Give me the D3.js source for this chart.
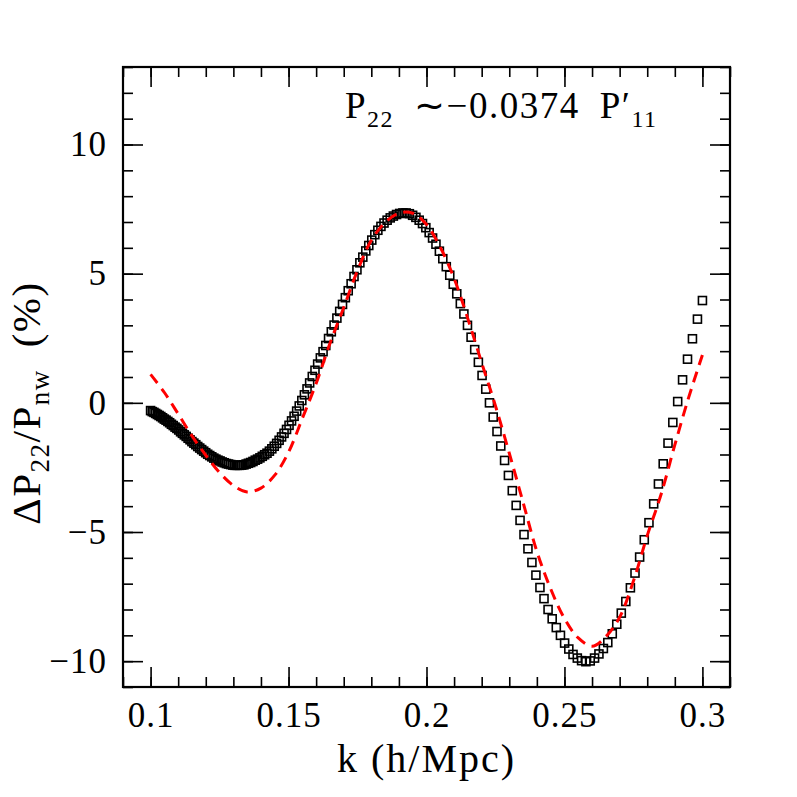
<!DOCTYPE html>
<html>
<head>
<meta charset="utf-8">
<script src="https://cdn.jsdelivr.net/npm/d3@7"></script>
<style>
  body { margin: 0; background: #fff; }
  text { font-family: "Liberation Serif", "Times New Roman", serif; fill: #000; }
</style>
</head>
<body>
<div class="vis-p22"></div>
<script>
// measured k bins (h/Mpc), log spaced
const kSim = [
  0.10000, 0.10061, 0.10122, 0.10184, 0.10246, 0.10308, 0.10371, 0.10434, 0.10498, 0.10561,
  0.10626, 0.10690, 0.10755, 0.10821, 0.10887, 0.10953, 0.11020, 0.11087, 0.11154, 0.11222,
  0.11291, 0.11360, 0.11429, 0.11498, 0.11568, 0.11638, 0.11709, 0.11781, 0.11852, 0.11925,
  0.11997, 0.12070, 0.12144, 0.12218, 0.12292, 0.12367, 0.12442, 0.12518, 0.12594, 0.12671,
  0.12748, 0.12826, 0.12904, 0.12982, 0.13061, 0.13141, 0.13221, 0.13301, 0.13382, 0.13464,
  0.13546, 0.13628, 0.13711, 0.13794, 0.13878, 0.13963, 0.14048, 0.14133, 0.14219, 0.14306,
  0.14394, 0.14481, 0.14569, 0.14658, 0.14747, 0.14837, 0.14927, 0.15018, 0.15109, 0.15201,
  0.15294, 0.15387, 0.15481, 0.15575, 0.15670, 0.15765, 0.15861, 0.15958, 0.16055, 0.16153,
  0.16251, 0.16350, 0.16450, 0.16550, 0.16650, 0.16752, 0.16854, 0.16956, 0.17059, 0.17163,
  0.17268, 0.17373, 0.17479, 0.17585, 0.17692, 0.17800, 0.17908, 0.18017, 0.18127, 0.18237,
  0.18349, 0.18460, 0.18573, 0.18686, 0.18799, 0.18914, 0.19029, 0.19145, 0.19261, 0.19379,
  0.19497, 0.19616, 0.19735, 0.19855, 0.19976, 0.20097, 0.20220, 0.20343, 0.20467, 0.20591,
  0.20717, 0.20843, 0.20970, 0.21097, 0.21226, 0.21355, 0.21485, 0.21616, 0.21747, 0.21880,
  0.22014, 0.22148, 0.22282, 0.22418, 0.22555, 0.22692, 0.22830, 0.22969, 0.23109, 0.23250,
  0.23391, 0.23534, 0.23677, 0.23821, 0.23966, 0.24112, 0.24259, 0.24406, 0.24555, 0.24704,
  0.24855, 0.25006, 0.25158, 0.25311, 0.25466, 0.25621, 0.25777, 0.25934, 0.26091, 0.26250,
  0.26411, 0.26571, 0.26733, 0.26896, 0.27060, 0.27224, 0.27390, 0.27557, 0.27725, 0.27893,
  0.28063, 0.28234, 0.28406, 0.28579, 0.28753, 0.28928, 0.29104, 0.29281, 0.29460, 0.29639,
  0.29820, 0.30001
];
// Delta P22 / P_nw (%) from the simulation (open squares)
const dpSim = [
  -0.30, -0.34, -0.37, -0.41, -0.45, -0.49, -0.53, -0.58, -0.63, -0.67,
  -0.72, -0.77, -0.83, -0.88, -0.94, -0.99, -1.05, -1.12, -1.18, -1.24,
  -1.30, -1.37, -1.43, -1.50, -1.56, -1.62, -1.69, -1.75, -1.81, -1.87,
  -1.93, -1.99, -2.04, -2.09, -2.14, -2.18, -2.22, -2.25, -2.29, -2.32,
  -2.35, -2.37, -2.39, -2.41, -2.42, -2.42, -2.42, -2.41, -2.40, -2.37,
  -2.34, -2.31, -2.27, -2.22, -2.18, -2.13, -2.07, -2.01, -1.95, -1.87,
  -1.78, -1.68, -1.57, -1.45, -1.32, -1.18, -1.03, -0.87, -0.70, -0.52,
  -0.32, -0.12, 0.09, 0.31, 0.54, 0.77, 1.02, 1.26, 1.50, 1.74,
  1.98, 2.22, 2.49, 2.75, 3.01, 3.28, 3.54, 3.81, 4.07, 4.34,
  4.61, 4.89, 5.15, 5.42, 5.64, 5.88, 6.09, 6.30, 6.51, 6.68,
  6.83, 6.96, 7.07, 7.16, 7.23, 7.29, 7.33, 7.35, 7.35, 7.32,
  7.26, 7.18, 7.07, 6.94, 6.78, 6.59, 6.38, 6.14, 5.87, 5.58,
  5.27, 4.94, 4.59, 4.22, 3.84, 3.44, 3.00, 2.54, 2.06, 1.57,
  1.06, 0.53, 0.00, -0.55, -1.11, -1.67, -2.23, -2.81, -3.40, -3.97,
  -4.55, -5.10, -5.65, -6.18, -6.67, -7.15, -7.58, -8.00, -8.36, -8.70,
  -9.00, -9.30, -9.53, -9.74, -9.88, -9.98, -10.02, -9.99, -9.88, -9.72,
  -9.51, -9.28, -8.94, -8.57, -8.14, -7.69, -7.16, -6.59, -5.97, -5.30,
  -4.64, -3.91, -3.14, -2.36, -1.56, -0.76, 0.05, 0.89, 1.69, 2.48,
  3.24, 3.96
];
// model P22 ~ -0.0374 P'11 (red dashed)
const kFit = [
  0.100, 0.105, 0.110, 0.115, 0.120, 0.125, 0.130, 0.135, 0.140, 0.145,
  0.150, 0.155, 0.160, 0.165, 0.170, 0.175, 0.180, 0.185, 0.190, 0.195,
  0.200, 0.205, 0.210, 0.215, 0.220, 0.225, 0.230, 0.235, 0.240, 0.245,
  0.250, 0.255, 0.260, 0.265, 0.270, 0.275, 0.280, 0.285, 0.290, 0.295,
  0.300
];
const dpFit = [
  1.10, 0.40, -0.43, -1.28, -2.03, -2.70, -3.20, -3.45, -3.30, -2.80,
  -1.91, -0.60, 0.75, 2.30, 3.69, 5.12, 6.29, 6.98, 7.34, 7.34,
  6.90, 6.02, 4.82, 3.25, 1.55, -0.12, -1.95, -3.85, -5.75, -7.20,
  -8.35, -9.10, -9.42, -9.05, -8.30, -6.90, -5.14, -3.55, -1.63, 0.20,
  1.85
];
const xMajor = [0.1, 0.15, 0.2, 0.25, 0.3];
const xMajorLabels = ['0.1', '0.15', '0.2', '0.25', '0.3'];
const yMajor = [-10, -5, 0, 5, 10];
const yMajorLabels = ['\u221210', '\u22125', '0', '5', '10'];

const W = 797, H = 797;
const margin = { top: 67, right: 67, bottom: 110, left: 123 };
const width = W - margin.left - margin.right;
const height = H - margin.top - margin.bottom;

const svgRoot = d3.select('.vis-p22')
  .append('svg')
  .attr('width', W)
  .attr('height', H);
svgRoot.append('rect').attr('width', W).attr('height', H).attr('fill', '#fff');

const svg = svgRoot.append('g')
  .attr('transform', 'translate(' + margin.left + ',' + margin.top + ')');

const x = d3.scaleLinear().domain([0.09, 0.31]).range([0, width]);
const y = d3.scaleLinear().domain([-11, 13]).range([height, 0]);

// clip to frame
svg.append('clipPath').attr('id', 'frame-clip')
  .append('rect').attr('width', width).attr('height', height);

// squares
const sq = 8;
svg.append('g')
  .attr('clip-path', 'url(#frame-clip)')
  .selectAll('rect')
  .data(kSim.map((k, i) => ({ k: k, v: dpSim[i] })))
  .enter()
  .append('rect')
  .attr('x', d => x(d.k) - sq / 2)
  .attr('y', d => y(d.v) - sq / 2)
  .attr('width', sq)
  .attr('height', sq)
  .attr('fill', 'none')
  .attr('stroke', '#000')
  .attr('stroke-width', 1.6);

// red dashed model curve
const line = d3.line()
  .x(d => x(d.k))
  .y(d => y(d.v))
  .curve(d3.curveCatmullRom);
svg.append('path')
  .datum(kFit.map((k, i) => ({ k: k, v: dpFit[i] })))
  .attr('d', line)
  .attr('fill', 'none')
  .attr('stroke', '#ff0000')
  .attr('stroke-width', 3)
  .attr('stroke-dasharray', '11,7');

// Axes: ticks point inward on all four sides
const minorX = x.ticks(22);
const minorY = y.ticks(24);
function styleAxis(g) {
  g.select('.domain').remove();
  g.selectAll('.tick line').attr('stroke', '#000').attr('stroke-width', 1.6);
}

svg.append('g')
  .attr('transform', 'translate(0,' + height + ')')
  .call(d3.axisBottom(x).tickValues(minorX).tickSize(-10).tickFormat(''))
  .call(styleAxis);
svg.append('g')
  .call(d3.axisTop(x).tickValues(minorX).tickSize(-10).tickFormat(''))
  .call(styleAxis);
svg.append('g')
  .call(d3.axisLeft(y).tickValues(minorY).tickSize(-10).tickFormat(''))
  .call(styleAxis);
svg.append('g')
  .attr('transform', 'translate(' + width + ',0)')
  .call(d3.axisRight(y).tickValues(minorY).tickSize(-10).tickFormat(''))
  .call(styleAxis);

const xAxis = svg.append('g')
  .attr('transform', 'translate(0,' + height + ')')
  .call(d3.axisBottom(x).tickValues(xMajor).tickSize(-20).tickPadding(15)
    .tickFormat((d, i) => xMajorLabels[i]))
  .call(styleAxis);
xAxis.selectAll('text').attr('font-size', 35).attr('letter-spacing', 1)
  .style('font-family', '"Liberation Serif", serif');
svg.append('g')
  .call(d3.axisTop(x).tickValues(xMajor).tickSize(-20).tickFormat(''))
  .call(styleAxis);

const yAxis = svg.append('g')
  .call(d3.axisLeft(y).tickValues(yMajor).tickSize(-20).tickPadding(16)
    .tickFormat((d, i) => yMajorLabels[i]))
  .call(styleAxis);
yAxis.selectAll('text').attr('font-size', 35).attr('letter-spacing', 1)
  .style('font-family', '"Liberation Serif", serif');
svg.append('g')
  .attr('transform', 'translate(' + width + ',0)')
  .call(d3.axisRight(y).tickValues(yMajor).tickSize(-20).tickFormat(''))
  .call(styleAxis);

// frame
svg.append('rect')
  .attr('width', width)
  .attr('height', height)
  .attr('fill', 'none')
  .attr('stroke', '#000')
  .attr('stroke-width', 2.2);

// x label
svgRoot.append('text')
  .attr('x', margin.left + width / 2)
  .attr('y', 772)
  .attr('text-anchor', 'middle')
  .attr('font-size', 40)
  .attr('letter-spacing', 2)
  .text('k (h/Mpc)');

// y label
const yl = svgRoot.append('text')
  .attr('transform', 'translate(40,403) rotate(-90)')
  .attr('text-anchor', 'middle')
  .attr('font-size', 41)
  .attr('letter-spacing', 1.5);
yl.append('tspan').text('\u0394P');
yl.append('tspan').attr('font-size', 27).attr('dy', 9).text('22');
yl.append('tspan').attr('dy', -9).text('/P');
yl.append('tspan').attr('font-size', 27).attr('dy', 9).text('nw');
yl.append('tspan').attr('dy', -9).text('\u2002(%)');

// annotation
const ann = svgRoot.append('text')
  .attr('x', 345)
  .attr('y', 118)
  .attr('font-size', 37)
  .attr('letter-spacing', 1.5);
ann.append('tspan').text('P');
ann.append('tspan').attr('font-size', 24).attr('dy', 9).text('22');
ann.append('tspan').attr('dy', -9).text('\u2002\u223C\u22120.0374\u2002P\u2032');
ann.append('tspan').attr('font-size', 24).attr('dy', 9).text('11');
</script>
</body>
</html>
